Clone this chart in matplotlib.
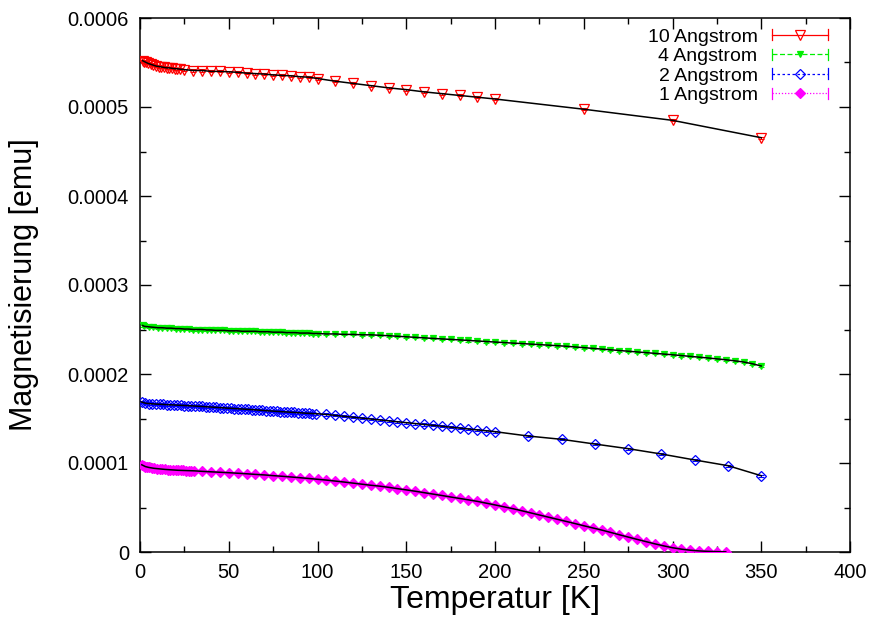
import matplotlib
matplotlib.use("Agg")
import matplotlib.pyplot as plt
from matplotlib.lines import Line2D
from matplotlib.legend_handler import HandlerBase
from matplotlib.ticker import MultipleLocator, FuncFormatter

plt.rcParams['font.family'] = ['Liberation Sans', 'DejaVu Sans']

# ---------------- data (magnetisation in units of 1e-4 emu) ----------------
T_10 = [1.5, 2.5, 3.5, 4.5, 6, 7.5, 9, 10.5, 12, 13.5, 15, 16.5, 18, 19.5, 21, 22.5,
        25, 30, 35, 40, 45, 50, 55, 60, 65, 70, 75, 80, 85, 90, 95, 100,
        110, 120, 130, 140, 150, 160, 170, 180, 190, 200, 250, 300, 350]
M_10 = [5.52, 5.51, 5.50, 5.49, 5.48, 5.47, 5.46, 5.455, 5.45, 5.445, 5.44, 5.44, 5.435, 5.43, 5.43, 5.425,
        5.42, 5.41, 5.41, 5.40, 5.40, 5.395, 5.39, 5.38, 5.375, 5.37, 5.36, 5.355, 5.35, 5.34, 5.335, 5.32,
        5.29, 5.265, 5.24, 5.215, 5.195, 5.17, 5.15, 5.13, 5.11, 5.09, 4.975, 4.85, 4.655]

T_4 = [1.5, 2.5, 5, 7.5, 10,
       12.5, 15, 17.5, 20, 22.5, 25, 27.5, 30,
       32.5, 35, 37.5, 40, 42.5, 45, 47.5, 50,
       52.5, 55, 57.5, 60, 62.5, 65, 67.5, 70,
       72.5, 75, 77.5, 80, 82.5, 85, 87.5, 90, 92.5, 95, 97.5, 100,
       105, 110, 115, 120, 125, 130, 135, 140, 145, 150, 155, 160, 165, 170, 175, 180,
       185, 190, 195, 200, 205, 210, 215, 220, 225, 230, 235, 240, 245, 250, 255, 260,
       265, 270, 275, 280, 285, 290, 295, 300, 305, 310, 315, 320, 325, 330, 335, 340,
       345, 350]
M_4 = [2.545, 2.535, 2.53, 2.525, 2.52,
       2.52, 2.515, 2.515, 2.51, 2.51, 2.505, 2.505, 2.50,
       2.50, 2.50, 2.495, 2.495, 2.49, 2.49, 2.49, 2.485,
       2.485, 2.485, 2.48, 2.48, 2.48, 2.48, 2.475, 2.475,
       2.475, 2.47, 2.47, 2.47, 2.465, 2.465, 2.465, 2.46, 2.46, 2.46, 2.455, 2.455,
       2.45, 2.45, 2.445, 2.445, 2.44, 2.44, 2.435, 2.43, 2.424, 2.418, 2.412, 2.406, 2.40, 2.394, 2.389, 2.383,
       2.377, 2.371, 2.365, 2.359, 2.353, 2.347, 2.342, 2.336, 2.33, 2.324, 2.318, 2.312, 2.304, 2.296, 2.288, 2.28,
       2.272, 2.264, 2.256, 2.248, 2.24, 2.232, 2.224, 2.216, 2.207, 2.198, 2.189, 2.18, 2.17, 2.16, 2.148, 2.135,
       2.115, 2.09]

T_2 = [1, 3, 5, 7, 9, 11, 13, 15, 17, 19, 21, 23, 25, 27, 29, 31, 33, 35, 37, 39,
       41, 43, 45, 47, 49, 51, 53, 55, 57, 59, 61, 63, 65, 67, 69, 71, 73, 75, 77, 79,
       81, 83, 85, 87, 89, 91, 93, 95, 97, 99,
       105, 110, 115, 120, 125, 130, 135, 140, 145, 150, 155, 160, 165, 170, 175, 180,
       185, 190, 195, 200, 218.75, 237.5, 256.25, 275, 293.75, 312.5, 331.25, 350]
M_2 = [1.685, 1.672, 1.668, 1.665, 1.662, 1.66, 1.658, 1.656, 1.654, 1.652, 1.65, 1.648, 1.646, 1.644, 1.642,
       1.64, 1.637, 1.635, 1.632, 1.63, 1.627, 1.625, 1.622, 1.62, 1.617, 1.615, 1.612, 1.61, 1.607, 1.605,
       1.602, 1.60, 1.597, 1.594, 1.591, 1.588, 1.585, 1.583, 1.58, 1.578, 1.575, 1.573, 1.57, 1.568, 1.565,
       1.563, 1.56, 1.558, 1.556, 1.554,
       1.545, 1.535, 1.524, 1.514, 1.504, 1.494, 1.484, 1.474, 1.463, 1.453, 1.443, 1.433, 1.423, 1.413, 1.402,
       1.392, 1.382, 1.372, 1.362, 1.352, 1.303, 1.266, 1.213, 1.161, 1.101, 1.034, 0.970, 0.857]

T_1 = [1, 2, 3, 4, 5, 6.5, 8, 9.5, 11, 12.5, 14, 15.5, 17, 18.5, 20, 21.5, 23, 24.5, 26, 27.5, 29, 30.5,
       35, 40, 45, 50, 55, 60, 65, 70, 75, 80, 85, 90, 95, 100, 105, 110, 115, 120, 125, 130, 135, 140,
       145, 150, 155, 160, 165, 170, 175, 180, 185, 190, 195, 200, 205, 210, 215, 220, 225, 230, 235, 240,
       245, 250, 255, 260, 265, 270, 275, 280, 285, 290, 295, 300, 305, 310, 315, 320, 325, 330]
M_1 = [0.98, 0.97, 0.96, 0.955, 0.95, 0.945, 0.94, 0.937, 0.934, 0.931, 0.928, 0.926, 0.924, 0.922, 0.92,
       0.918, 0.917, 0.916, 0.915, 0.914, 0.913, 0.912,
       0.906, 0.901, 0.896, 0.891, 0.885, 0.879, 0.872, 0.866, 0.858, 0.851, 0.843, 0.835, 0.826, 0.817,
       0.808, 0.797, 0.786, 0.774, 0.762, 0.750, 0.740, 0.727, 0.712, 0.698, 0.683, 0.667, 0.651, 0.635,
       0.618, 0.602, 0.586, 0.569, 0.549, 0.529, 0.508, 0.487, 0.464, 0.440, 0.416, 0.392, 0.368, 0.344,
       0.320, 0.295, 0.271, 0.247, 0.221, 0.194, 0.168, 0.142, 0.117, 0.092, 0.069, 0.048, 0.032, 0.020,
       0.012, 0.007, 0.004, 0.002]

labels = ["10 Angstrom", "4 Angstrom", "2 Angstrom", "1 Angstrom"]
SCALE = 1e-4
ERR = 0.012  # error bar half-height (1e-4 emu)

series = [
    (T_10, M_10, '#ff0000', 'v', 'none', 7.0, '-'),
    (T_4, M_4, '#00ee00', 'v', '#00ee00', 4.5, (0, (4, 2))),
    (T_2, M_2, '#0000ff', 'D', 'none', 5.0, (0, (2, 2))),
    (T_1, M_1, '#ff00ff', 'D', '#ff00ff', 5.0, (0, (1, 1.5))),
]

fig = plt.figure(figsize=(8.73, 6.2), dpi=100)
ax = fig.add_axes([140 / 873, 1 - 552 / 620, (850 - 140) / 873, (552 - 18) / 620])

handles = []
for (T, M, col, mk, mfc, ms, ls) in series:
    y = [v * SCALE for v in M]
    ax.errorbar(T, y, yerr=ERR * SCALE, fmt='none', ecolor=col, elinewidth=0.8,
                capsize=2.5, capthick=0.8, zorder=2)
    h, = ax.plot(T, y, linestyle='none', marker=mk, markersize=ms, markerfacecolor=mfc,
                 markeredgecolor=col, markeredgewidth=0.9, zorder=3)
    ax.plot(T, y, color='black', lw=1.1, zorder=4)
    handles.append(h)


class GnuplotHandler(HandlerBase):
    def __init__(self, color, ls, marker, mfc, ms):
        super().__init__()
        self.color, self.ls, self.marker, self.mfc, self.ms = color, ls, marker, mfc, ms

    def create_artists(self, legend, orig_handle, xdescent, ydescent, width, height,
                       fontsize, trans):
        yc = height / 2 - ydescent
        x0 = -xdescent
        x1 = -xdescent + width
        capH = 4.0
        arts = [
            Line2D([x0, x1], [yc, yc], color=self.color, ls=self.ls, lw=0.9),
            Line2D([x0, x0], [yc - capH, yc + capH], color=self.color, lw=0.9),
            Line2D([x1, x1], [yc - capH, yc + capH], color=self.color, lw=0.9),
            Line2D([(x0 + x1) / 2], [yc], marker=self.marker, markersize=self.ms,
                   markerfacecolor=self.mfc, markeredgecolor=self.color,
                   markeredgewidth=0.9, linestyle='none'),
        ]
        for a in arts:
            a.set_transform(trans)
        return arts


hmap = {h: GnuplotHandler(s[2], s[6], s[3], s[4], s[5]) for h, s in zip(handles, series)}
leg = ax.legend(handles, labels, handler_map=hmap, loc='upper right',
                bbox_to_anchor=(828 / 873, 1 - 28 / 620), bbox_transform=fig.transFigure,
                frameon=False, markerfirst=False, fontsize=14, handlelength=2.9,
                handletextpad=0.72, labelspacing=0.1, borderpad=0, borderaxespad=0)

ax.set_xlim(0, 400)
ax.set_ylim(0, 0.0006)
ax.xaxis.set_major_locator(MultipleLocator(50))
ax.xaxis.set_minor_locator(MultipleLocator(25))
ax.yaxis.set_major_locator(MultipleLocator(0.0001))
ax.yaxis.set_minor_locator(MultipleLocator(0.00005))
ax.yaxis.set_major_formatter(FuncFormatter(lambda v, p: '0' if abs(v) < 1e-12 else f'{v:.4f}'))
ax.tick_params(which='both', direction='in', top=True, right=True, labelsize=14.5, width=1.0)
ax.tick_params(which='major', length=8, pad=8)
ax.tick_params(which='minor', length=4)
for sp in ax.spines.values():
    sp.set_linewidth(1.1)

ax.set_xlabel('Temperatur [K]', fontsize=23)
ax.set_ylabel('Magnetisierung [emu]', fontsize=22)
ax.xaxis.set_label_coords(0.5, -(600 - 552) / 534, transform=ax.transAxes)
ax.yaxis.set_label_coords(-(140 - 24) / 710, 0.5, transform=ax.transAxes)
ax.xaxis.label.set_va('center')
ax.yaxis.label.set_va('center')

fig.savefig('out.png', dpi=100)
